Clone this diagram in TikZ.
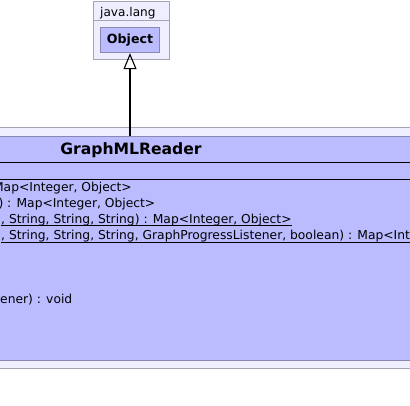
\documentclass[tikz,border=0pt]{standalone}
\usepackage{fontspec}
\setmainfont{DejaVu Sans}
\usepackage{tikz}
\usetikzlibrary{arrows.meta, positioning}

\definecolor{pkgfill}{HTML}{EEEEFF}
\definecolor{pkgline}{HTML}{A4A4B8}
\definecolor{clsfill}{HTML}{BBBBFF}
\definecolor{clsline}{HTML}{8888B0}

\begin{document}
\begin{tikzpicture}[
    x=1pt, y=-1pt,
    pkg/.style={rectangle, draw=pkgline, fill=pkgfill, line width=1pt, inner sep=0pt},
    cls/.style={rectangle, draw=clsline, fill=clsfill, line width=1pt, inner sep=0pt},
    member/.style={inner sep=0pt, font=\fontsize{12.3}{16}\selectfont},
    sep/.style={line width=1pt, black},
    uline/.style={line width=0.9pt, black},
    inherit/.style={-{Triangle[open, length=16pt, width=13pt]}, line width=1.1pt, black},
]
    \useasboundingbox (0,0) rectangle (410,406);
    \clip (0,0) rectangle (410,406);
    \fill[white] (0,0) rectangle (410,406);

    % Package java.lang
    \node[pkg, minimum width=76.7pt, minimum height=58pt] (langpkg) at (131.6,31) {};
    \draw[pkgline, line width=1pt] (93.3,20.7) -- (170,20.7);
    \node[member, anchor=base west, font=\fontsize{12.1}{14}\selectfont] (langname) at (100,17) {java.lang};
    \node[cls, minimum width=58.3pt, minimum height=24.7pt, font=\bfseries\fontsize{12.6}{14}\selectfont] (obj) at (130,40.3) {Object};

    % Package around the class
    \node[pkg, minimum width=460pt, minimum height=240.5pt] (readerpkg) at (205,248) {};

    % Class GraphMLReader
    \node[cls, minimum width=760pt, minimum height=224.2pt] (reader) at (131,248.4) {};
    \node[inner sep=0pt, anchor=base, font=\bfseries\fontsize{15.6}{18}\selectfont] (title) at (131,155) {GraphMLReader};
    \draw[sep] (-10,162.3) -- (420,162.3);
    \draw[sep] (-10,179.3) -- (420,179.3);

    % Methods
    \node[member, anchor=base east] (m1) at (132,192) {Map<Integer, Object>};
    \node[member, anchor=base east] (m2) at (155.5,208) {) : Map<Integer, Object>};
    \node[member, anchor=base west] (m3) at (1,224) {, String, String, String) : Map<Integer, Object>};
    \node[member, anchor=base west] (m4) at (1,240) {, String, String, String, GraphProgressListener, boolean) : Map<Integer, Object>};
    \node[member, anchor=base west] (m8) at (0,304) {ener) : void};
    \draw[uline] ([yshift=-1.5pt]m3.base west) -- ([yshift=-1.5pt]m3.base east);
    \draw[uline] ([yshift=-2.5pt]m4.base west) -- ([yshift=-2.5pt]m4.base east);

    % Generalization
    \coordinate (top) at (130,136.3);
    \draw[inherit] (top) -- (obj.south);
\end{tikzpicture}
\end{document}
